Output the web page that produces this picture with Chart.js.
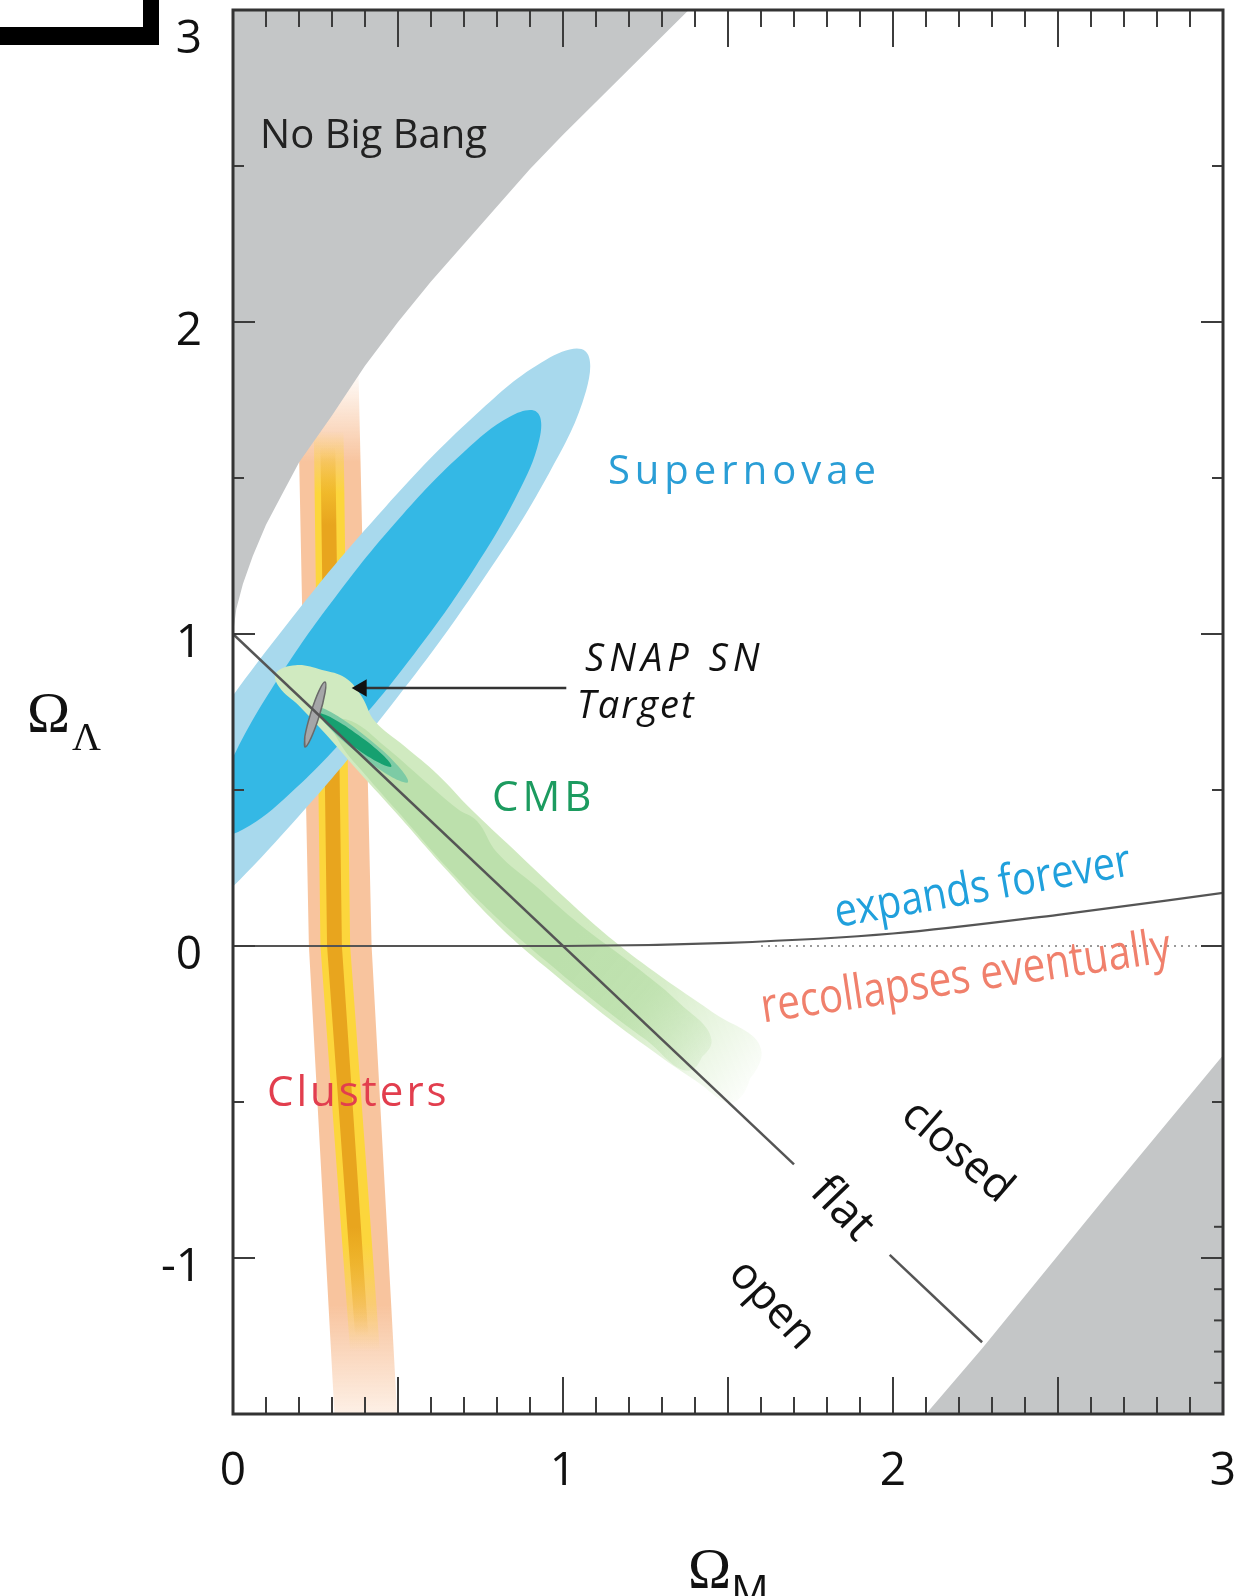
<!DOCTYPE html>
<html>
<head>
<meta charset="utf-8">
<script src="https://cdn.jsdelivr.net/npm/chart.js@4.4.1/dist/chart.umd.min.js"></script>
<style>
  html, body { margin: 0; padding: 0; background: #fff; }
  #cadre { position: relative; width: 1245px; height: 1596px; overflow: hidden; }
  .coin-h { position: absolute; left: 0; top: 27px; width: 159px; height: 18px; background: #000; }
  .coin-v { position: absolute; left: 143px; top: 0; width: 16px; height: 45px; background: #000; }
</style>
</head>
<body>
<div id="cadre">
  <canvas id="graphique" width="1245" height="1596"></canvas>
  <div class="coin-h"></div>
  <div class="coin-v"></div>
</div>
<script>
// Graduations des axes
const xTickValues = [0, 1, 2, 3];
const xTickLabels = ["0", "1", "2", "3"];
const yTickValues = [-1, 0, 1, 2, 3];
const yTickLabels = ["-1", "0", "1", "2", "3"];

// Contours, en paires [Omega_M, Omega_Lambda]
const noBigBang = [
  [0, 1.0], [0.01, 1.08], [0.03, 1.16], [0.06, 1.25], [0.1, 1.35], [0.15, 1.45], [0.2, 1.55],
  [0.3, 1.70], [0.4, 1.86], [0.5, 2.0], [0.6, 2.13], [0.7, 2.25], [0.8, 2.37], [0.9, 2.49],
  [1.0, 2.60], [1.2, 2.81], [1.4, 3.02], [-0.05, 3.05], [-0.05, 1.0], [0, 1.0]
];
const zoneBasDroite = [
  [2.06, -1.55], [2.10, -1.5], [2.27, -1.29], [2.64, -0.81], [3.0, -0.35],
  [3.05, -0.35], [3.05, -1.55], [2.06, -1.55]
];
const amasExterieur = [[0.195, 1.85], [0.23, 0.0], [0.31, -1.55], [0.50, -1.55], [0.42, 0.0], [0.38, 1.85], [0.195, 1.85]];
const amasJaune = [[0.245, 1.65], [0.265, 0.0], [0.355, -1.3], [0.445, -1.3], [0.355, 0.0], [0.335, 1.65], [0.245, 1.65]];
const amasCoeur = [[0.265, 1.6], [0.285, 0.0], [0.37, -1.25], [0.41, -1.25], [0.33, 0.0], [0.31, 1.6], [0.265, 1.6]];

const supernovaeExt = [
  [-0.429, -0.111], [-0.432, 0.016], [-0.321, 0.278], [-0.1125, 0.6325], [0.162, 1.029], [0.4605, 1.4055],
  [0.737, 1.704], [0.950, 1.880], [1.067, 1.907], [1.070, 1.780], [0.959, 1.518], [0.7505, 1.1635],
  [0.476, 0.767], [0.1775, 0.3905], [-0.099, 0.092], [-0.312, -0.084]
];
const supernovaeInt = [
  [-0.051, 0.359], [-0.058, 0.448], [0.010, 0.626], [0.143, 0.867], [0.3205, 1.133], [0.515, 1.384],
  [0.698, 1.582], [0.840, 1.697], [0.921, 1.711], [0.928, 1.622], [0.860, 1.444], [0.727, 1.203],
  [0.5495, 0.937], [0.355, 0.686], [0.172, 0.488], [0.030, 0.373]
];

const cmbExterieur = [
  [1.60, -0.33], [1.52, -0.50], [1.40, -0.43], [1.25, -0.32], [1.10, -0.20], [0.95, -0.07],
  [0.80, 0.07], [0.65, 0.24], [0.50, 0.42], [0.38, 0.56], [0.28, 0.68], [0.20, 0.77], [0.14, 0.83],
  [0.13, 0.875], [0.19, 0.90], [0.27, 0.885], [0.34, 0.86], [0.39, 0.80], [0.43, 0.72], [0.52, 0.64],
  [0.62, 0.55], [0.72, 0.44], [0.85, 0.31], [1.0, 0.16], [1.15, 0.02], [1.30, -0.10], [1.45, -0.21]
];
const cmbMilieu = [
  [1.45, -0.30], [1.38, -0.40], [1.25, -0.30], [1.10, -0.18], [0.95, -0.05], [0.80, 0.09],
  [0.65, 0.25], [0.50, 0.43], [0.40, 0.55], [0.33, 0.64], [0.30, 0.72], [0.36, 0.72], [0.46, 0.64],
  [0.58, 0.53], [0.68, 0.44], [0.74, 0.40], [0.80, 0.30], [0.92, 0.19], [1.05, 0.07], [1.20, -0.05],
  [1.35, -0.18]
];
const cmbHalo = [[0.25, 0.765], [0.279, 0.714], [0.3728, 0.6226], [0.477, 0.544], [0.53, 0.525], [0.501, 0.576], [0.4072, 0.6674], [0.303, 0.746]];
const cmbCoeur = [[0.26, 0.745], [0.285, 0.709], [0.3593, 0.6445], [0.440, 0.589], [0.48, 0.575], [0.455, 0.611], [0.3807, 0.6755], [0.300, 0.731]];

const snapCible = [[0.218, 0.638], [0.2177, 0.6715], [0.2355, 0.7462], [0.2609, 0.8185], [0.279, 0.846], [0.279, 0.8125], [0.2615, 0.7378], [0.236, 0.6655]];

// Lignes
const plat1 = [[0, 1], [1.70, -0.70]];
const plat2 = [[1.99, -0.99], [2.27, -1.27]];
const expansion = [[0, 0], [1.0, 0], [1.5, 0.01], [2.0, 0.04], [2.5, 0.10], [3.0, 0.17]];
const pointille = [[1.6, 0], [3.0, 0]];
const fleche = [[1.01, 0.827], [0.40, 0.827]];
const pointeFleche = [[0.39, 0.827]];

const pts = (arr) => arr.map(p => ({ x: p[0], y: p[1] }));
// Ajoute les deux premiers points à la fin pour que la courbe se referme sans cassure
const ferme = (arr) => pts(arr.concat([arr[0], arr[1]]));

// Dégradé vertical (fondu aux extrémités des bandes d'amas)
function fonduVertical(rgb, arrets) {
  return function (context) {
    const chart = context.chart;
    if (!chart.chartArea) return `rgb(${rgb})`;
    const y = chart.scales.y;
    const p0 = y.getPixelForValue(arrets[0][0]);
    const p1 = y.getPixelForValue(arrets[arrets.length - 1][0]);
    const g = chart.ctx.createLinearGradient(0, p0, 0, p1);
    for (const [v, a] of arrets) {
      g.addColorStop((y.getPixelForValue(v) - p0) / (p1 - p0), `rgba(${rgb},${a})`);
    }
    return g;
  };
}
// Dégradé le long de la bande CMB
function fonduDiagonal(rgb, de, vers, arrets) {
  return function (context) {
    const chart = context.chart;
    if (!chart.chartArea) return `rgb(${rgb})`;
    const { x, y } = chart.scales;
    const g = chart.ctx.createLinearGradient(
      x.getPixelForValue(de[0]), y.getPixelForValue(de[1]),
      x.getPixelForValue(vers[0]), y.getPixelForValue(vers[1]));
    for (const [o, a] of arrets) g.addColorStop(o, `rgba(${rgb},${a})`);
    return g;
  };
}

function forme(data, couleur, order, tension = 0.4) {
  return {
    data: tension ? ferme(data) : pts(data), showLine: true, fill: "shape", backgroundColor: couleur,
    borderWidth: 0, pointRadius: 0, pointHoverRadius: 0, tension: tension, order: order
  };
}
function trait(data, couleur, largeur, order, extra = {}) {
  return Object.assign({
    data: pts(data), showLine: true, fill: false, borderColor: couleur, borderWidth: largeur,
    pointRadius: 0, pointHoverRadius: 0, tension: 0, order: order
  }, extra);
}

const gris = "rgb(196,198,199)";
const fonduCmb = [[0, 1], [0.4, 0.85], [1, 0]];

const datasets = [
  { data: pts(pointeFleche), showLine: false, pointStyle: "triangle", pointRadius: 10, pointRotation: -90,
    pointBackgroundColor: "#111", pointBorderWidth: 0, pointHoverRadius: 10, order: 0 },
  trait(fleche, "#333", 2.5, 0),
  trait(plat1, "#555", 2.5, 1),
  trait(plat2, "#555", 2.5, 1),
  trait(expansion, "#555", 2.2, 1, { cubicInterpolationMode: "monotone" }),
  trait(pointille, "#999", 2, 1, { borderDash: [2, 5] }),
  Object.assign(forme(snapCible, "rgb(165,166,168)", 2), { borderWidth: 1.5, borderColor: "#6a6a6a" }),
  forme(cmbCoeur, "rgb(22,160,112)", 3),
  forme(cmbHalo, "rgb(125,203,165)", 4),
  forme(cmbMilieu, fonduDiagonal("188,224,172", [1.05, 0.05], [1.55, -0.40], fonduCmb), 5),
  forme(cmbExterieur, fonduDiagonal("208,234,192", [1.05, 0.05], [1.62, -0.45], fonduCmb), 6),
  forme(supernovaeInt, "rgb(52,184,229)", 7),
  forme(supernovaeExt, "rgb(168,217,237)", 8),
  forme(noBigBang, gris, 9, 0),
  forme(zoneBasDroite, gris, 9, 0),
  forme(amasCoeur, fonduVertical("232,165,30", [[1.6, 0], [1.35, 1], [-0.9, 1], [-1.25, 0]]), 10, 0),
  forme(amasJaune, fonduVertical("252,214,60", [[1.65, 0], [1.45, 1], [-0.95, 1], [-1.3, 0]]), 11, 0),
  forme(amasExterieur, fonduVertical("248,196,158", [[1.85, 0], [1.55, 1], [-1.15, 1], [-1.55, 0.15]]), 12, 0)
];

// Étiquettes du graphique (positions en coordonnées des données)
const etiquettes = [
  { t: "No Big Bang", x: 0.082, y: 2.558, c: "#222", f: "40px 'Open Sans'" },
  { t: "Supernovae", x: 1.136, y: 1.481, c: "rgb(42,158,214)", f: "40px 'Open Sans'", ls: 5 },
  { t: "SNAP SN", x: 1.067, y: 0.881, c: "#111", f: "italic 38px 'Open Sans'", ls: 5 },
  { t: "Target", x: 1.042, y: 0.731, c: "#111", f: "italic 38px 'Open Sans'", ls: 2 },
  { t: "CMB", x: 0.785, y: 0.433, c: "rgb(28,155,95)", f: "42px 'Open Sans'", ls: 4 },
  { t: "Clusters", x: 0.103, y: -0.513, c: "rgb(226,62,78)", f: "42px 'Open Sans'", ls: 3 },
  { t: "expands forever", x: 2.279, y: 0.144, c: "rgb(32,160,220)", f: "46px 'Open Sans'", a: -10, sx: 0.86, al: "center" },
  { t: "recollapses eventually", x: 2.227, y: -0.147, c: "rgb(240,128,108)", f: "48px 'Open Sans'", a: -8.5, sx: 0.84, al: "center" },
  { t: "closed", x: 2.194, y: -0.660, c: "#111", f: "44px 'Open Sans'", a: 41, al: "center", bl: "middle" },
  { t: "flat", x: 1.845, y: -0.843, c: "#111", f: "46px 'Open Sans'", a: 46, al: "center", bl: "middle" },
  { t: "open", x: 1.633, y: -1.151, c: "#111", f: "44px 'Open Sans'", a: 47, al: "center", bl: "middle" }
];

const cadreEtTextes = {
  id: "cadreEtTextes",
  afterDatasetsDraw(chart) {
    const { ctx, chartArea: a, scales: { x, y } } = chart;
    const seg = (x0, y0, x1, y1) => { ctx.beginPath(); ctx.moveTo(x0, y0); ctx.lineTo(x1, y1); ctx.stroke(); };
    ctx.save();
    ctx.strokeStyle = "#3c3c3c";
    ctx.lineWidth = 2;
    // graduations vers l'intérieur, en bas et en haut
    for (let i = 1; i < 30; i++) {
      const px = x.getPixelForValue(i / 10);
      const l = i % 5 === 0 ? 37 : 17;
      seg(px, a.bottom, px, a.bottom - l);
      seg(px, a.top, px, a.top + l);
    }
    // graduations à gauche et à droite
    for (let i = -2; i <= 5; i++) {
      const py = y.getPixelForValue(i / 2);
      const l = i % 2 === 0 ? 22 : 11;
      seg(a.left, py, a.left + l, py);
      seg(a.right, py, a.right - l, py);
    }
    for (const v of [-0.9, -1.1, -1.2, -1.3, -1.4]) {
      const py = y.getPixelForValue(v);
      seg(a.right, py, a.right - 9, py);
    }
    // cadre
    ctx.lineWidth = 3;
    ctx.strokeStyle = "#333";
    ctx.strokeRect(a.left, a.top, a.right - a.left, a.bottom - a.top);

    // textes
    for (const e of etiquettes) {
      ctx.save();
      ctx.translate(x.getPixelForValue(e.x), y.getPixelForValue(e.y));
      ctx.rotate((e.a || 0) * Math.PI / 180);
      ctx.scale(e.sx || 1, 1);
      ctx.font = e.f;
      ctx.fillStyle = e.c;
      ctx.letterSpacing = (e.ls || 0) + "px";
      ctx.textAlign = e.al || "left";
      ctx.textBaseline = e.bl || "alphabetic";
      ctx.fillText(e.t, 0, 0);
      ctx.restore();
    }

    // la graduation "3" du haut est décalée vers le bas dans l'original
    ctx.fillStyle = "#111";
    ctx.font = "46px 'Open Sans'";
    ctx.textAlign = "right";
    ctx.textBaseline = "middle";
    ctx.fillText(yTickLabels[yTickLabels.length - 1], a.left - 31, y.getPixelForValue(3) + 30);

    // titres des axes : Omega_Lambda et Omega_M
    ctx.textAlign = "left";
    ctx.textBaseline = "alphabetic";
    ctx.font = "58px 'Liberation Serif'";
    ctx.fillText("Ω", 27, 732);
    ctx.fillText("Ω", 688, 1588);
    ctx.font = "40px 'Liberation Serif'";
    ctx.fillText("Λ", 72, 750);
    ctx.font = "42px 'Open Sans'";
    ctx.fillText("M", 731, 1605);
    ctx.restore();
  }
};

const policeTicks = { family: "Open Sans", size: 46 };

new Chart(document.querySelector("#graphique"), {
  type: "scatter",
  data: { datasets: datasets },
  options: {
    responsive: false,
    devicePixelRatio: 1,
    animation: false,
    layout: { padding: { top: 10, right: 22, left: 0, bottom: 0 } },
    plugins: { legend: { display: false }, tooltip: { enabled: false } },
    scales: {
      x: {
        type: "linear", min: 0, max: 3,
        afterBuildTicks: (s) => { s.ticks = xTickValues.map(v => ({ value: v })); },
        afterFit: (s) => { s.height = 182; s.paddingLeft = 0; s.paddingRight = 0; },
        ticks: { callback: (v, i) => xTickLabels[i], font: policeTicks, color: "#111", padding: 30, maxRotation: 0, autoSkip: false },
        grid: { display: false, drawTicks: false },
        border: { display: false }
      },
      y: {
        type: "linear", min: -1.5, max: 3,
        afterBuildTicks: (s) => { s.ticks = yTickValues.map(v => ({ value: v })); },
        afterFit: (s) => { s.width = 233; s.paddingTop = 0; s.paddingBottom = 0; },
        // la dernière étiquette ("3") est dessinée par le plugin
        ticks: { callback: (v, i) => (i === yTickLabels.length - 1 ? "" : yTickLabels[i]), font: policeTicks, color: "#111", padding: 31, labelOffset: 10, autoSkip: false },
        grid: { display: false, drawTicks: false },
        border: { display: false }
      }
    }
  },
  plugins: [cadreEtTextes]
});
</script>
</body>
</html>
